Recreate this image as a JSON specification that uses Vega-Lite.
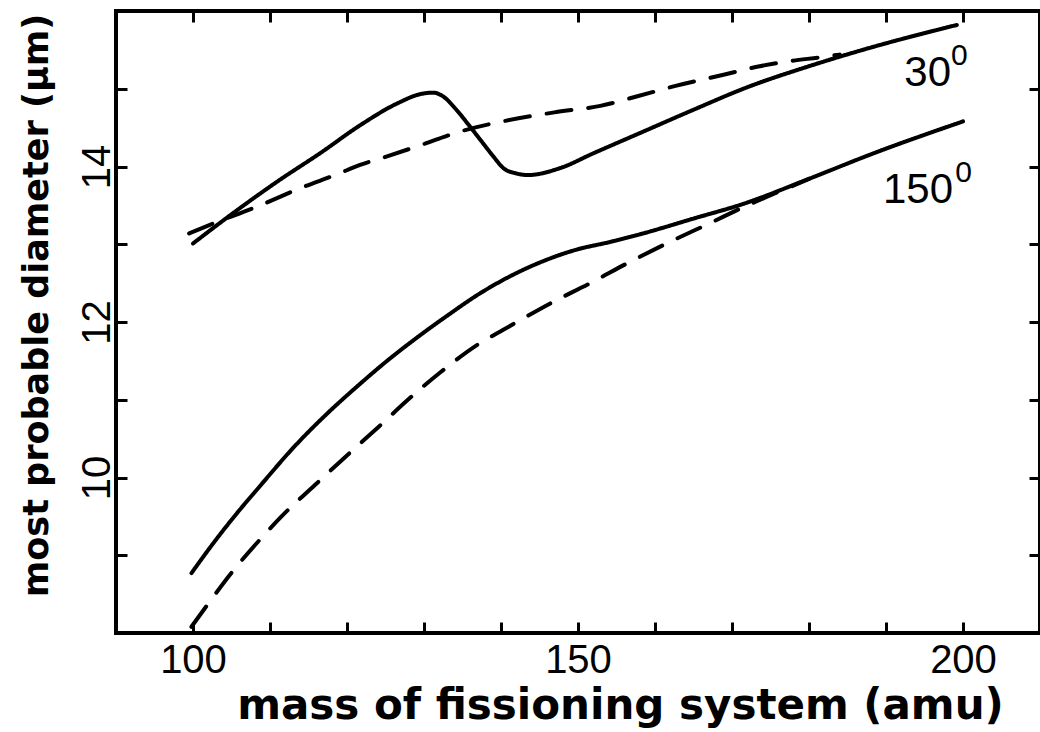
{
  "$schema": "https://vega.github.io/schema/vega-lite/v6.json",
  "width": 924,
  "height": 622,
  "autosize": {"type": "none"},
  "padding": {"left": 116, "top": 11, "right": 0, "bottom": 99},
  "background": "white",
  "datasets": {
    "curves": [
      {"mass": 100.0, "diameter": 13.01, "angle": "30", "kind": "solid"},
      {"mass": 105.2, "diameter": 13.40, "angle": "30", "kind": "solid"},
      {"mass": 111.3, "diameter": 13.83, "angle": "30", "kind": "solid"},
      {"mass": 116.5, "diameter": 14.17, "angle": "30", "kind": "solid"},
      {"mass": 121.7, "diameter": 14.53, "angle": "30", "kind": "solid"},
      {"mass": 126.5, "diameter": 14.81, "angle": "30", "kind": "solid"},
      {"mass": 129.5, "diameter": 14.93, "angle": "30", "kind": "solid"},
      {"mass": 131.2, "diameter": 14.95, "angle": "30", "kind": "solid"},
      {"mass": 132.5, "diameter": 14.90, "angle": "30", "kind": "solid"},
      {"mass": 134.2, "diameter": 14.73, "angle": "30", "kind": "solid"},
      {"mass": 136.0, "diameter": 14.51, "angle": "30", "kind": "solid"},
      {"mass": 137.5, "diameter": 14.32, "angle": "30", "kind": "solid"},
      {"mass": 139.0, "diameter": 14.13, "angle": "30", "kind": "solid"},
      {"mass": 140.3, "diameter": 13.98, "angle": "30", "kind": "solid"},
      {"mass": 142.0, "diameter": 13.91, "angle": "30", "kind": "solid"},
      {"mass": 143.5, "diameter": 13.89, "angle": "30", "kind": "solid"},
      {"mass": 147.7, "diameter": 13.98, "angle": "30", "kind": "solid"},
      {"mass": 152.0, "diameter": 14.17, "angle": "30", "kind": "solid"},
      {"mass": 158.5, "diameter": 14.45, "angle": "30", "kind": "solid"},
      {"mass": 165.0, "diameter": 14.73, "angle": "30", "kind": "solid"},
      {"mass": 172.0, "diameter": 15.02, "angle": "30", "kind": "solid"},
      {"mass": 179.7, "diameter": 15.28, "angle": "30", "kind": "solid"},
      {"mass": 188.4, "diameter": 15.54, "angle": "30", "kind": "solid"},
      {"mass": 199.2, "diameter": 15.82, "angle": "30", "kind": "solid"},

      {"mass": 99.5, "diameter": 13.14, "angle": "30", "kind": "dashed"},
      {"mass": 102.2, "diameter": 13.25, "angle": "30", "kind": "dashed"},
      {"mass": 108.7, "diameter": 13.50, "angle": "30", "kind": "dashed"},
      {"mass": 113.9, "diameter": 13.72, "angle": "30", "kind": "dashed"},
      {"mass": 118.7, "diameter": 13.90, "angle": "30", "kind": "dashed"},
      {"mass": 121.7, "diameter": 14.02, "angle": "30", "kind": "dashed"},
      {"mass": 125.2, "diameter": 14.13, "angle": "30", "kind": "dashed"},
      {"mass": 130.3, "diameter": 14.30, "angle": "30", "kind": "dashed"},
      {"mass": 134.7, "diameter": 14.45, "angle": "30", "kind": "dashed"},
      {"mass": 140.7, "diameter": 14.59, "angle": "30", "kind": "dashed"},
      {"mass": 147.2, "diameter": 14.70, "angle": "30", "kind": "dashed"},
      {"mass": 152.9, "diameter": 14.78, "angle": "30", "kind": "dashed"},
      {"mass": 157.6, "diameter": 14.90, "angle": "30", "kind": "dashed"},
      {"mass": 162.8, "diameter": 15.04, "angle": "30", "kind": "dashed"},
      {"mass": 168.9, "diameter": 15.18, "angle": "30", "kind": "dashed"},
      {"mass": 173.6, "diameter": 15.29, "angle": "30", "kind": "dashed"},
      {"mass": 177.1, "diameter": 15.35, "angle": "30", "kind": "dashed"},
      {"mass": 181.9, "diameter": 15.41, "angle": "30", "kind": "dashed"},
      {"mass": 184.0, "diameter": 15.44, "angle": "30", "kind": "dashed"},

      {"mass": 99.8, "diameter": 8.77, "angle": "150", "kind": "solid"},
      {"mass": 102.6, "diameter": 9.15, "angle": "150", "kind": "solid"},
      {"mass": 105.7, "diameter": 9.54, "angle": "150", "kind": "solid"},
      {"mass": 108.7, "diameter": 9.89, "angle": "150", "kind": "solid"},
      {"mass": 113.0, "diameter": 10.38, "angle": "150", "kind": "solid"},
      {"mass": 117.4, "diameter": 10.82, "angle": "150", "kind": "solid"},
      {"mass": 121.3, "diameter": 11.17, "angle": "150", "kind": "solid"},
      {"mass": 125.2, "diameter": 11.50, "angle": "150", "kind": "solid"},
      {"mass": 129.5, "diameter": 11.83, "angle": "150", "kind": "solid"},
      {"mass": 133.0, "diameter": 12.08, "angle": "150", "kind": "solid"},
      {"mass": 137.3, "diameter": 12.37, "angle": "150", "kind": "solid"},
      {"mass": 143.3, "diameter": 12.69, "angle": "150", "kind": "solid"},
      {"mass": 149.8, "diameter": 12.93, "angle": "150", "kind": "solid"},
      {"mass": 154.2, "diameter": 13.03, "angle": "150", "kind": "solid"},
      {"mass": 158.5, "diameter": 13.14, "angle": "150", "kind": "solid"},
      {"mass": 165.0, "diameter": 13.33, "angle": "150", "kind": "solid"},
      {"mass": 171.5, "diameter": 13.52, "angle": "150", "kind": "solid"},
      {"mass": 179.7, "diameter": 13.83, "angle": "150", "kind": "solid"},
      {"mass": 188.4, "diameter": 14.17, "angle": "150", "kind": "solid"},
      {"mass": 200.0, "diameter": 14.58, "angle": "150", "kind": "solid"},

      {"mass": 99.8, "diameter": 8.08, "angle": "150", "kind": "dashed"},
      {"mass": 102.0, "diameter": 8.38, "angle": "150", "kind": "dashed"},
      {"mass": 104.8, "diameter": 8.75, "angle": "150", "kind": "dashed"},
      {"mass": 108.5, "diameter": 9.18, "angle": "150", "kind": "dashed"},
      {"mass": 111.5, "diameter": 9.50, "angle": "150", "kind": "dashed"},
      {"mass": 115.8, "diameter": 9.90, "angle": "150", "kind": "dashed"},
      {"mass": 120.4, "diameter": 10.32, "angle": "150", "kind": "dashed"},
      {"mass": 124.2, "diameter": 10.66, "angle": "150", "kind": "dashed"},
      {"mass": 127.8, "diameter": 10.99, "angle": "150", "kind": "dashed"},
      {"mass": 132.1, "diameter": 11.35, "angle": "150", "kind": "dashed"},
      {"mass": 137.3, "diameter": 11.73, "angle": "150", "kind": "dashed"},
      {"mass": 140.3, "diameter": 11.90, "angle": "150", "kind": "dashed"},
      {"mass": 146.8, "diameter": 12.26, "angle": "150", "kind": "dashed"},
      {"mass": 151.6, "diameter": 12.50, "angle": "150", "kind": "dashed"},
      {"mass": 156.3, "diameter": 12.75, "angle": "150", "kind": "dashed"},
      {"mass": 161.5, "diameter": 13.01, "angle": "150", "kind": "dashed"},
      {"mass": 167.1, "diameter": 13.27, "angle": "150", "kind": "dashed"},
      {"mass": 172.0, "diameter": 13.50, "angle": "150", "kind": "dashed"},
      {"mass": 176.2, "diameter": 13.68, "angle": "150", "kind": "dashed"},
      {"mass": 180.0, "diameter": 13.84, "angle": "150", "kind": "dashed"}
    ],
    "angleLabels": [
      {"mass": 198.44, "diameter": 15.04, "text": "30"},
      {"mass": 198.7, "diameter": 13.53, "text": "150"}
    ],
    "degreeMarks": [
      {"mass": 198.45, "diameter": 15.31, "text": "0"},
      {"mass": 199.0, "diameter": 13.80, "text": "0"}
    ]
  },
  "layer": [
    {
      "data": {"name": "curves"},
      "mark": {"type": "line", "interpolate": "monotone", "strokeWidth": 4, "color": "black", "strokeCap": "round"},
      "encoding": {
        "x": {
          "field": "mass",
          "type": "quantitative",
          "scale": {"domain": [90, 210], "nice": false, "zero": false},
          "axis": {
            "orient": "bottom",
            "values": [100, 110, 120, 130, 140, 150, 160, 170, 180, 190, 200],
            "labelExpr": "datum.value % 50 === 0 ? datum.label : ''",
            "title": "mass of fissioning system (amu)",
            "titleFont": "DejaVu Sans",
            "titleFontSize": 42,
            "titleX": 504,
            "titleY": 85,
            "titleAlign": "center",
            "titleBaseline": "alphabetic",
            "labelPadding": 18,
            "labelBaseline": "top"
          }
        },
        "y": {
          "field": "diameter",
          "type": "quantitative",
          "scale": {"domain": [8, 16], "nice": false, "zero": false},
          "axis": {
            "orient": "left",
            "values": [9, 10, 11, 12, 13, 14, 15],
            "labelExpr": "datum.value % 2 === 0 ? datum.label : ''",
            "labelAngle": -90,
            "labelAlign": "center",
            "labelBaseline": "alphabetic",
            "labelPadding": 18,
            "title": "most probable diameter (μm)",
            "titleFont": "DejaVu Sans",
            "titleFontSize": 35,
            "titleAngle": -90,
            "titleX": -69,
            "titleY": 294,
            "titleAlign": "center",
            "titleBaseline": "alphabetic"
          }
        },
        "detail": {"field": "angle"},
        "strokeDash": {
          "field": "kind",
          "type": "nominal",
          "scale": {"domain": ["solid", "dashed"], "range": [[1, 0], [25, 17]]},
          "legend": null
        }
      }
    },
    {
      "data": {"name": "angleLabels"},
      "mark": {"type": "text", "align": "right", "baseline": "alphabetic", "fontSize": 42, "font": "Liberation Sans", "color": "black"},
      "encoding": {
        "x": {
          "field": "mass",
          "type": "quantitative",
          "axis": {
            "orient": "top",
            "values": [100, 110, 120, 130, 140, 150, 160, 170, 180, 190, 200],
            "labels": false,
            "title": null
          }
        },
        "y": {
          "field": "diameter",
          "type": "quantitative",
          "axis": {
            "orient": "right",
            "values": [9, 10, 11, 12, 13, 14, 15],
            "labels": false,
            "title": null
          }
        },
        "text": {"field": "text"}
      }
    },
    {
      "data": {"name": "degreeMarks"},
      "mark": {"type": "text", "align": "left", "baseline": "alphabetic", "fontSize": 30, "font": "Liberation Sans", "color": "black"},
      "encoding": {
        "x": {"field": "mass", "type": "quantitative", "axis": null},
        "y": {"field": "diameter", "type": "quantitative", "axis": null},
        "text": {"field": "text"}
      }
    }
  ],
  "resolve": {"axis": {"x": "independent", "y": "independent"}},
  "config": {
    "view": {"stroke": "black", "strokeWidth": 4},
    "axis": {
      "grid": false,
      "domain": false,
      "ticks": true,
      "tickColor": "black",
      "tickWidth": 3,
      "tickSize": -11,
      "labelColor": "black",
      "labelFont": "Liberation Sans",
      "labelFontSize": 40,
      "titleColor": "black",
      "titleFontWeight": "bold"
    }
  }
}
